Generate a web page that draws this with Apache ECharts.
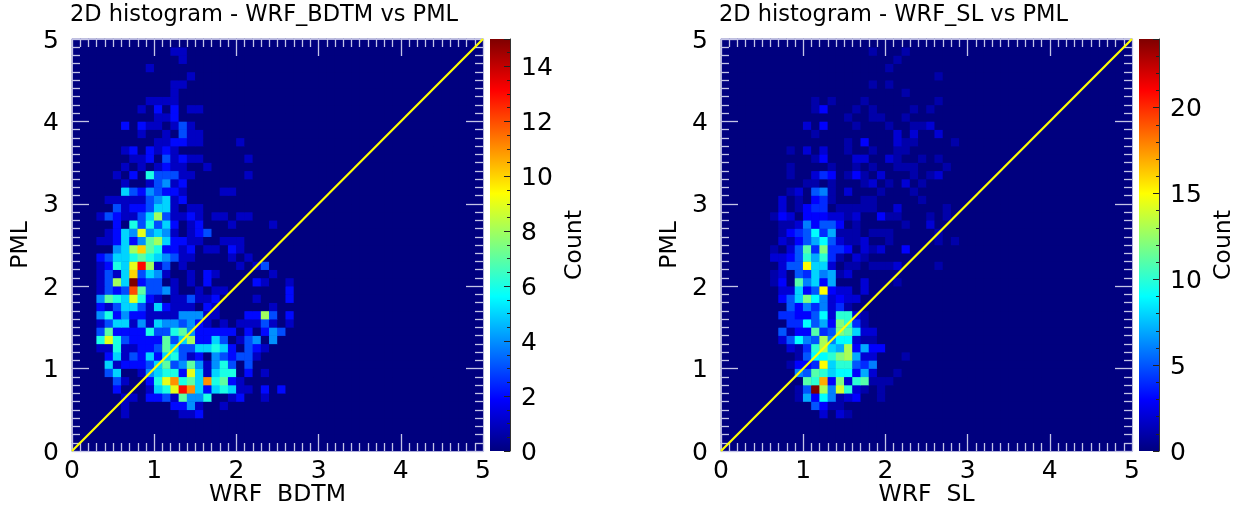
<!DOCTYPE html>
<html><head><meta charset="utf-8">
<script src="https://cdn.jsdelivr.net/npm/echarts@6/dist/echarts.min.js"></script>
<style>html,body{margin:0;padding:0;background:#fff}#c{width:1248px;height:510px}</style>
</head><body><div id="c"></div>
<script>
// each row: [PML bin index, first WRF bin index, counts...]; bins are 0.1 wide
const bdtmRows = [
[48,12,1,1],[47,13,1],[46,9,1],[45,14,1],[44,12,1,1],[43,12,1],[42,9,1,1,1,1],
[41,8,1,0,2,0,2,0,1,1],[40,10,1,1,2],[39,6,2,0,2,1,1,0,1,3,1],[38,8,1,0,0,1,0,3,1,1],
[37,10,1,1,2,2,1,1,0,0,0,0,1],[36,6,1,2,0,2,1,2,1],[35,7,1,1,2,0,3,1,2,1,1,0,0,0,0,0,1],
[34,6,1,0,1,0,1,2,1,1,0,0,1],[33,5,1,0,2,0,6,3,3,3,1,1,0,0,0,0,0,0,1],[32,6,1,0,0,1,3,4,1,2],
[31,6,5,3,2,4,3,2,2,1,0,0,0,0,1,1],[30,4,1,1,1,1,1,3,4,5,1,2],[29,5,3,1,2,2,3,5,5,1,0,1,1],
[28,3,1,3,2,1,1,3,5,8,3,1,1,2,1,0,1,1,0,1,1],[27,5,2,0,6,3,6,3,5,2,0,1,2,0,0,0,1,0,0,0,0,1],
[26,4,1,2,5,4,9,4,5,4,1,0,1,2,3],[25,3,1,1,2,5,2,4,7,8,5,2,2,1,1,0,0,1,1,1],
[24,5,4,5,8,10,7,6,2,2,1,2,0,1,1,0,2,1],[23,3,2,3,5,5,6,7,6,5,4,3,1,1,0,0,0,0,1,0,1],
[22,3,1,2,6,5,9,13,8,1,3,0,1,0,0,0,0,0,0,1,0,1,3],[21,3,1,3,1,5,10,3,5,4,1,0,0,1,0,2,1,0,0,0,0,0,0,1],
[20,3,1,3,8,5,15,2,3,3,0,1,0,1,0,2,0,0,0,0,0,2,1,0,0,1],[19,3,1,3,2,3,12,7,3,3,4,1,0,0,1,0,1,1,0,0,0,0,0,0,0,2],
[18,3,4,7,6,5,9,6,2,1,0,1,1,3,1,1,2,0,0,0,0,1,0,0,0,2],[17,3,2,1,3,5,5,3,1,5,2,1,1,1,0,2,1,0,0,0,0,0,0,1],
[16,3,4,6,2,4,2,2,1,1,1,1,4,4,4,1,1,0,0,0,2,2,8,3,0,2],[15,3,1,3,5,5,1,4,1,5,4,4,3,4,2,1,0,1,0,1,1,1,3,1,0,1],
[14,3,3,7,2,2,2,2,6,3,3,6,7,4,2,2,2,2,2,0,2,0,2,4,3],[13,3,6,9,6,3,2,2,2,2,7,3,5,8,2,2,5,3,0,1,3,4,0,4],
[12,3,1,1,6,1,1,2,2,3,7,5,3,3,5,5,6,5,2,0,3,2,1],[11,4,2,5,1,3,2,5,2,5,6,3,1,2,0,4,3,2,3,3,1],
[10,4,5,1,2,2,2,3,5,7,3,4,7,4,1,4,6,3,0,3],[9,4,3,5,0,0,1,4,5,6,6,2,9,5,1,5,6,6,0,2,0,1],
[8,5,3,1,0,0,2,6,9,11,6,7,5,11,6,7,2,1],[7,5,2,0,0,0,1,5,6,9,13,11,5,2,5,6,5,1,1,0,2,0,2],
[6,6,1,1,0,2,2,3,1,7,4,4,6,0,0,1,2,0,0,1],[5,6,1,0,0,0,0,0,2,2,4,1,0,0,1],[4,6,1,0,0,0,0,0,0,1,1,2]
];
const slRows = [
[48,18,1,0,0,0,1],[47,21,1],[46,20,1],[45,26,1],[44,18,1,0,1],[43,22,1],
[42,11,1,0,1,0,0,0,1,0,0,0,0,0,0,0,0,1],[41,11,1,3,0,0,0,1,0,1,0,0,0,0,1,0,1],[40,15,1,0,0,1,1,0,0,1],
[39,10,2,0,3,0,0,0,1,0,0,0,1,0,0,1,1,2],[38,11,1,0,0,0,0,0,0,0,0,0,2,0,2,0,0,2],[37,15,1,0,3,0,0,0,2,1,1,0,0,0,0,1],
[36,8,1,0,2,0,2,0,0,1,0,0,1,0,0,1,1],[35,11,1,3,0,0,0,2,2,0,0,2,1,0,0,1,0,1],
[34,8,1,0,0,0,0,1,0,0,1,0,1,0,0,1,1,1,0,0,0,1],[33,8,1,0,0,2,4,3,0,1,3,1,0,2,0,0,0,1,0,1,2],
[32,10,1,1,0,1,0,0,0,1,2,0,1,0,2,0,1],[31,8,1,2,0,5,6,1,0,2,0,0,0,1,0,0,0,1],
[30,7,2,0,1,0,3,4,1,0,0,0,1,1,0,0,0,0,0,1],[29,7,2,0,1,3,4,4,0,1,1,1,1,1,0,0,2,0,0,0,0,0,1],
[28,6,1,3,2,0,3,3,3,2,2,1,2,0,0,3,1,1,0,0,0,1,0,1],[27,7,1,1,2,6,3,5,5,3,0,1,0,0,0,0,0,1,0,0,2],
[26,7,1,3,4,5,9,4,7,1,1,1,0,1,1,1,0,0,0,0,0,1],[25,7,2,1,3,5,7,9,5,2,1,1,2,0,0,1,0,0,0,0,0,1,0,1],
[24,6,1,0,2,5,11,4,12,4,4,3,0,2,1,2,0,0,3],[23,6,2,2,3,5,10,7,10,4,1,0,2,1],
[22,7,2,5,5,15,8,8,2,0,1,1,0,1,1,1,2,0,0,0,0,1],[21,6,1,2,0,5,4,8,6,7,1,2],
[20,6,1,3,0,11,6,8,3,7,0,0,0,2,0,0,0,1],[19,7,2,2,8,3,5,15,3,2,2,0,2],[18,7,3,5,8,12,9,6,2,3,2,2],
[17,8,5,3,6,4,6,2,4,1],[16,7,4,4,3,3,5,9,2,10,10,2,1],[15,8,4,4,9,5,7,3,12,10,4,1],
[14,7,5,1,3,3,11,4,5,12,11,8,2,2],[13,7,2,5,9,6,5,13,6,9,9,2,1,1],[12,8,2,1,4,10,13,8,7,13,3,7,3,3],
[11,9,1,5,9,9,10,12,13,7,2,2,0,0,0,1],[10,8,1,3,3,4,15,8,10,10,5,4,6],[9,9,6,5,11,10,8,9,9,3,7,2,0,0,1],
[8,10,11,10,17,3,12,2,10,11,1,1,1],[7,9,1,5,24,13,6,14,10,2,1,0,1],[6,9,1,7,3,9,6,1,2,3,0,0,1],
[5,11,5,3,1,1],[4,12,2,0,2,1]
];
const diagonal = [[0,0],[5,5]];
const axisTicks = [0,1,2,3,4,5];
const maxCounts = [15,24];
const titles = ['2D histogram - WRF_BDTM vs PML','2D histogram - WRF_SL vs PML'];
const xNames = ['WRF  BDTM','WRF  SL'];
const yName = 'PML';
const barName = 'Count';
const jetColors = ['#00007f','#0000ff','#007fff','#00ffff','#7fff7f','#ffff00','#ff7f00','#ff0000','#7f0000'];

const FONT='"DejaVu Sans"', TICK='#c4c4e6', TXT='#000';
const bins=[...Array(50).keys()];
function cells(rows){
  const grid=bins.map(()=>bins.map(()=>0));
  rows.forEach(r=>{r.slice(2).forEach((v,k)=>{grid[r[0]][r[1]+k]=v;});});
  const out=[];
  bins.forEach(j=>bins.forEach(i=>out.push([i,j,grid[j][i]])));
  return out;
}
const panels=[{left:72,barLeft:490,rows:bdtmRows,barW:20},{left:721,barLeft:1139,rows:slRows,barW:20}];
const TOP=39,SIZE=412,W=411;
const grid=[],xAxis=[],yAxis=[],series=[],visualMap=[],title=[];
panels.forEach((p,n)=>{
  const g0=grid.length;
  grid.push({left:p.left,top:TOP,width:W,height:SIZE,show:true,backgroundColor:'#00007f',borderWidth:0,outerBoundsMode:'none'});
  grid.push({left:p.left,top:TOP,width:W,height:SIZE,outerBoundsMode:'none'});
  grid.push({left:p.barLeft,top:TOP,width:p.barW,height:SIZE,outerBoundsMode:'none'});
  const ax0=xAxis.length;
  const hiddenCat={type:'category',data:bins,show:false};
  xAxis.push(Object.assign({gridIndex:g0},hiddenCat));
  yAxis.push(Object.assign({gridIndex:g0},hiddenCat));
  const vAxis=(pos,show,name,margin,extra)=>({
    type:'value',gridIndex:g0+1,min:0,max:5,interval:1,position:pos,z:5,
    axisLine:{show:true,onZero:false,lineStyle:{color:'#b0b0dc',width:1}},
    axisTick:{show:true,inside:true,length:17,lineStyle:{color:TICK,width:1.3}},
    minorTick:{show:true,splitNumber:10,length:8,lineStyle:{color:TICK,width:1.3}},
    splitLine:{show:false},minorSplitLine:{show:false},
    axisLabel:Object.assign({show:show,color:TXT,fontFamily:FONT,fontSize:25,margin:margin||7,
      formatter:v=>axisTicks.includes(v)?String(v):''},extra||{}),
    name:name||'',nameLocation:'middle',nameMoveOverlap:false,nameTextStyle:{color:TXT,fontFamily:FONT,fontSize:23.5}
  });
  const lowerLabel={verticalAlign:'top',lineHeight:4};
  const xv=vAxis('bottom',true,xNames[n],8);xv.nameGap=32;
  const yv=vAxis('left',true,yName,13,lowerLabel);yv.nameGap=39;
  const xIdx=xAxis.length;
  xAxis.push(xv,vAxis('top',false));
  const yIdx=yAxis.length;
  yAxis.push(yv,vAxis('right',false));
  const cbX=xAxis.length,cbY=yAxis.length;
  xAxis.push({type:'category',gridIndex:g0+2,data:[barName],show:false});
  yAxis.push({type:'value',gridIndex:g0+2,min:0,max:maxCounts[n],interval:n?5:2,position:'right',z:5,
    axisLine:{show:true,onZero:false,lineStyle:{color:'#333',width:1}},
    axisTick:{show:true,inside:true,length:6,lineStyle:{color:'#222',width:1}},
    minorTick:{show:true,splitNumber:n?5:4,length:3,lineStyle:{color:'#222',width:1}},
    splitLine:{show:false},
    axisLabel:Object.assign({color:TXT,fontFamily:FONT,fontSize:25,margin:11,
      formatter:v=>v===maxCounts[n]?'':String(v)},lowerLabel),
    name:barName,nameLocation:'middle',nameRotate:90,nameGap:53,nameMoveOverlap:false,
    nameTextStyle:{color:TXT,fontFamily:FONT,fontSize:23.5}});
  series.push({type:'heatmap',xAxisIndex:ax0,yAxisIndex:ax0,data:cells(p.rows),progressive:0,animation:false,emphasis:{disabled:true}});
  const si=series.length-1;
  visualMap.push({show:false,type:'continuous',seriesIndex:si,min:0,max:maxCounts[n],dimension:2,inRange:{color:jetColors}});
  series.push({type:'line',xAxisIndex:xIdx,yAxisIndex:yIdx,data:diagonal,symbol:'none',z:6,silent:true,animation:false,clip:true,
    lineStyle:{color:'#ffff00',width:2.2}});
  series.push({type:'bar',xAxisIndex:cbX,yAxisIndex:cbY,data:[maxCounts[n]],barWidth:'100%',silent:true,animation:false,
    itemStyle:{color:new echarts.graphic.LinearGradient(0,1,0,0,jetColors.map((c,k)=>({offset:k/(jetColors.length-1),color:c})))}});
  title.push({text:titles[n],left:p.left-7,top:-1,textStyle:{color:TXT,fontFamily:FONT,fontSize:22.5,fontWeight:'normal'}});
});
const chart=echarts.init(document.getElementById('c'),null,{renderer:'canvas'});
chart.setOption({animation:false,backgroundColor:'#fff',title,grid,xAxis,yAxis,visualMap,series});
</script></body></html>
